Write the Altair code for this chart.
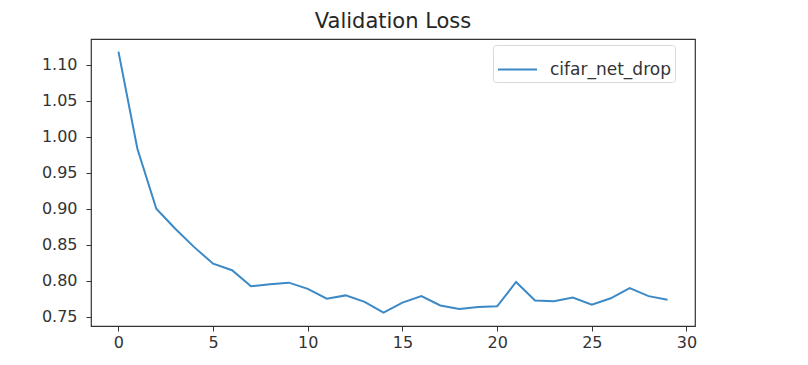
import altair as alt
import pandas as pd

epochs = list(range(30))
val_loss = [1.1185, 0.9836, 0.9003, 0.8726, 0.847, 0.824, 0.815, 0.7926, 0.7954, 0.7977,
            0.789, 0.7755, 0.780, 0.771, 0.756, 0.770, 0.779, 0.766, 0.761, 0.764,
            0.7648, 0.7986, 0.773, 0.772, 0.777, 0.767, 0.776, 0.790, 0.779, 0.774]
series_name = ["cifar_net_drop"] * len(epochs)
x_ticks = [0, 5, 10, 15, 20, 25, 30]
y_ticks = [0.75, 0.80, 0.85, 0.90, 0.95, 1.00, 1.05, 1.10]

df = pd.DataFrame({"epoch": epochs, "loss": val_loss, "series": series_name})

FONT = "DejaVu Sans"
TXT = "#333333"

chart = alt.Chart(df).mark_line(strokeWidth=2).encode(
    x=alt.X("epoch:Q",
            scale=alt.Scale(domain=[-1.45, 30.45], nice=False, zero=False),
            axis=alt.Axis(values=x_ticks, title=None, grid=False, format="d",
                          tickSize=5, tickColor=TXT, domain=False,
                          labelFontSize=16, labelColor=TXT, labelFont=FONT,
                          labelPadding=3)),
    y=alt.Y("loss:Q",
            scale=alt.Scale(domain=[0.7375, 1.136], nice=False, zero=False),
            axis=alt.Axis(values=y_ticks, title=None, grid=False, format=".2f",
                          tickSize=5, tickColor=TXT, domain=False,
                          labelFontSize=16, labelColor=TXT, labelFont=FONT,
                          labelPadding=9)),
    color=alt.Color("series:N",
                    scale=alt.Scale(range=["#3b89c6"]),
                    legend=alt.Legend(title=None, orient="none",
                                      legendX=402, legendY=6,
                                      symbolType="stroke", symbolSize=1521,
                                      symbolStrokeWidth=2, labelFontSize=17,
                                      labelFont=FONT, labelColor=TXT,
                                      labelOffset=12, padding=4,
                                      fillColor="white", strokeColor="#d9d9d9",
                                      cornerRadius=3))
).properties(
    width=604,
    height=287,
    title=alt.TitleParams("Validation Loss", fontSize=21, font=FONT,
                          fontWeight="normal", color="#262626", offset=7),
    autosize=alt.AutoSizeParams(type="none"),
    padding={"left": 83, "top": 31, "right": 5, "bottom": 30},
).configure(
    background="white"
).configure_view(
    stroke="#333333", strokeWidth=1.2
)

chart.save("out.html", embed_options={"renderer": "svg", "actions": False})
